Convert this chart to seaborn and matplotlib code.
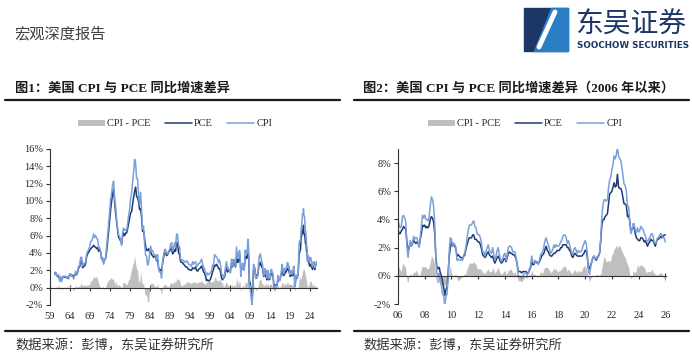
import numpy as np
import pandas as pd
import matplotlib
matplotlib.use("Agg")
import matplotlib.pyplot as plt
import seaborn as sns
from matplotlib.lines import Line2D
from matplotlib.patches import Rectangle, Polygon

# US CPI / PCE year-over-year (%), end-of-quarter readings 1960Q1-2005Q4
cpi_q = [1.5, 1.8, 1.4, 1.4, 1.5, 0.7, 1.3, 0.7, 1.1, 1.3, 1.3, 1.3, 1.1, 1.3, 1.0, 1.6,
         1.6, 1.3, 1.3, 1.0, 1.3, 1.9, 1.6, 1.9, 2.5, 2.5, 3.5, 3.5, 2.5, 2.8, 2.8, 3.0,
         3.9, 4.2, 4.4, 4.7, 5.3, 5.4, 5.7, 6.2, 5.8, 6.0, 5.7, 5.6, 4.7, 4.6, 4.1, 3.3,
         3.5, 2.7, 3.2, 3.4, 4.7, 6.0, 7.4, 8.7, 10.2, 10.9, 11.9, 12.3, 10.3, 9.4, 7.9, 6.9,
         6.1, 5.9, 5.5, 4.9, 6.4, 6.9, 6.6, 6.7, 6.6, 7.4, 8.3, 9.0, 10.2, 10.9, 12.2, 13.3,
         14.8, 14.4, 12.6, 12.5, 10.6, 9.6, 11.0, 8.9, 6.8, 7.1, 5.0, 3.8, 3.6, 2.6, 2.9, 3.8,
         4.8, 4.2, 4.3, 3.9, 3.7, 3.8, 3.2, 3.8, 2.2, 1.8, 1.8, 1.1, 3.0, 3.7, 4.4, 4.4,
         3.9, 3.9, 4.2, 4.4, 5.0, 5.2, 4.3, 4.6, 5.2, 4.7, 6.2, 6.1, 4.9, 4.7, 3.4, 3.1,
         3.2, 3.1, 3.0, 2.9, 3.1, 3.0, 2.7, 2.7, 2.5, 2.5, 3.0, 2.7, 2.9, 3.0, 2.5, 2.5,
         2.8, 2.8, 3.0, 3.3, 2.8, 2.3, 2.2, 1.7, 1.4, 1.7, 1.5, 1.6, 1.7, 2.0, 2.6, 2.7,
         3.8, 3.7, 3.5, 3.4, 2.9, 3.2, 2.6, 1.6, 1.5, 1.1, 1.5, 2.4, 3.0, 2.1, 2.3, 1.9,
         1.7, 3.3, 2.5, 3.3, 3.1, 2.5, 4.7, 3.4]
pce_q = [1.7, 1.7, 1.4, 1.3, 1.2, 1.0, 1.1, 0.9, 1.2, 1.3, 1.2, 1.3, 1.1, 1.1, 1.2, 1.4,
         1.5, 1.4, 1.4, 1.4, 1.4, 1.6, 1.5, 1.8, 2.3, 2.4, 3.0, 3.1, 2.3, 2.5, 2.5, 2.8,
         3.6, 3.9, 4.1, 4.3, 4.5, 4.6, 4.7, 4.9, 4.7, 4.7, 4.5, 4.6, 4.2, 4.4, 4.1, 3.3,
         3.3, 2.9, 3.2, 3.4, 4.2, 5.3, 6.5, 7.8, 9.0, 9.9, 10.9, 11.3, 10.0, 8.6, 7.6, 6.6,
         5.8, 5.6, 5.4, 5.1, 5.9, 6.3, 6.0, 6.3, 6.3, 6.8, 7.4, 8.0, 8.6, 8.8, 9.6, 10.4,
         11.1, 11.6, 10.5, 10.4, 9.9, 9.0, 9.1, 8.1, 6.5, 6.5, 5.6, 4.8, 4.3, 4.3, 4.5, 4.1,
         4.2, 3.8, 3.7, 3.5, 3.6, 3.6, 3.1, 3.3, 2.3, 1.9, 2.1, 1.9, 2.8, 3.5, 4.0, 4.0,
         3.7, 3.8, 4.1, 4.2, 4.4, 4.6, 3.9, 4.0, 4.4, 4.2, 5.1, 5.2, 4.0, 3.8, 3.0, 2.9,
         2.9, 2.7, 2.6, 2.4, 2.4, 2.3, 2.1, 2.1, 2.0, 2.0, 2.3, 2.2, 2.2, 2.4, 2.0, 1.9,
         2.1, 2.2, 2.3, 2.5, 2.2, 1.8, 1.7, 1.3, 0.8, 0.9, 0.8, 0.8, 1.0, 1.4, 1.8, 2.1,
         2.6, 2.5, 2.7, 2.5, 2.2, 2.2, 1.8, 1.1, 0.9, 1.1, 1.2, 1.9, 2.3, 1.8, 2.0, 1.9,
         2.0, 2.8, 2.4, 3.0, 2.8, 2.4, 3.5, 2.9]

# monthly readings 2006-01 to 2026-01
cpi_m = [4.0, 3.6, 3.4, 3.5, 4.2, 4.3, 4.1, 3.8, 2.1, 1.3, 2.0, 2.5,
         2.1, 2.4, 2.8, 2.6, 2.7, 2.7, 2.4, 2.0, 2.8, 3.5, 4.3, 4.1,
         4.3, 4.0, 4.0, 3.9, 4.2, 5.0, 5.6, 5.4, 4.9, 3.7, 1.1, 0.1,
         0.0, 0.2, -0.4, -0.7, -1.3, -1.4, -2.1, -1.5, -1.3, -0.2, 1.8, 2.7,
         2.6, 2.1, 2.3, 2.2, 2.0, 1.1, 1.2, 1.1, 1.1, 1.2, 1.1, 1.5,
         1.6, 2.1, 2.7, 3.2, 3.6, 3.6, 3.6, 3.8, 3.9, 3.5, 3.4, 3.0,
         2.9, 2.9, 2.7, 2.3, 1.7, 1.7, 1.4, 1.7, 2.0, 2.2, 1.8, 1.7,
         1.6, 2.0, 1.5, 1.1, 1.4, 1.8, 2.0, 1.5, 1.2, 1.0, 1.2, 1.5,
         1.6, 1.1, 1.5, 2.0, 2.1, 2.1, 2.0, 1.7, 1.7, 1.7, 1.3, 0.8,
         -0.1, 0.0, -0.1, -0.2, 0.0, 0.1, 0.2, 0.2, 0.0, 0.2, 0.5, 0.7,
         1.4, 1.0, 0.9, 1.1, 1.0, 1.0, 0.8, 1.1, 1.5, 1.6, 1.7, 2.1,
         2.5, 2.7, 2.4, 2.2, 1.9, 1.6, 1.7, 1.9, 2.2, 2.0, 2.2, 2.1,
         2.1, 2.2, 2.4, 2.5, 2.8, 2.9, 2.9, 2.7, 2.3, 2.5, 2.2, 1.9,
         1.6, 1.5, 1.9, 2.0, 1.8, 1.6, 1.8, 1.7, 1.7, 1.8, 2.1, 2.3,
         2.5, 2.3, 1.5, 0.3, 0.1, 0.6, 1.0, 1.3, 1.4, 1.2, 1.2, 1.4,
         1.4, 1.7, 2.6, 4.2, 5.0, 5.4, 5.4, 5.3, 5.4, 6.2, 6.8, 7.0,
         7.5, 7.9, 8.5, 8.3, 8.6, 9.1, 8.5, 8.3, 8.2, 7.7, 7.1, 6.5,
         6.4, 6.0, 5.0, 4.9, 4.0, 3.0, 3.2, 3.7, 3.7, 3.2, 3.1, 3.4,
         3.1, 3.2, 3.5, 3.4, 3.3, 3.0, 2.9, 2.5, 2.4, 2.6, 2.7, 2.9,
         3.0, 2.8, 2.4, 2.3, 2.4, 2.7, 2.7, 2.9, 3.0, 2.9, 2.7, 2.7,
         2.4]
pce_m = [3.3, 3.0, 3.0, 3.2, 3.3, 3.5, 3.4, 3.3, 2.4, 1.8, 2.0, 2.3,
         2.1, 2.3, 2.5, 2.4, 2.3, 2.4, 2.3, 2.1, 2.6, 3.0, 3.6, 3.5,
         3.6, 3.4, 3.5, 3.4, 3.6, 4.0, 4.2, 4.1, 3.8, 3.0, 1.3, 0.6,
         0.5, 0.6, 0.2, 0.0, -0.4, -0.8, -1.4, -1.0, -0.8, 0.2, 1.4, 2.0,
         2.4, 2.1, 2.3, 2.1, 1.9, 1.4, 1.5, 1.4, 1.3, 1.3, 1.2, 1.4,
         1.5, 1.9, 2.2, 2.5, 2.7, 2.7, 2.7, 2.9, 2.9, 2.6, 2.6, 2.5,
         2.4, 2.4, 2.2, 1.9, 1.5, 1.4, 1.3, 1.4, 1.6, 1.7, 1.5, 1.4,
         1.3, 1.4, 1.1, 0.9, 1.1, 1.3, 1.4, 1.2, 1.0, 0.9, 1.0, 1.2,
         1.2, 1.0, 1.3, 1.6, 1.7, 1.6, 1.6, 1.5, 1.5, 1.4, 1.2, 0.8,
         0.3, 0.3, 0.3, 0.2, 0.3, 0.3, 0.3, 0.3, 0.2, 0.2, 0.4, 0.6,
         1.0, 0.8, 0.8, 1.0, 1.0, 0.9, 0.9, 1.0, 1.2, 1.4, 1.5, 1.6,
         1.9, 2.1, 1.8, 1.7, 1.5, 1.4, 1.4, 1.5, 1.6, 1.6, 1.7, 1.8,
         1.8, 1.8, 2.0, 2.0, 2.2, 2.2, 2.2, 2.2, 2.0, 2.0, 1.8, 1.7,
         1.4, 1.3, 1.5, 1.6, 1.5, 1.4, 1.4, 1.4, 1.4, 1.4, 1.5, 1.6,
         1.8, 1.8, 1.3, 0.5, 0.5, 0.8, 1.0, 1.3, 1.4, 1.2, 1.1, 1.3,
         1.4, 1.6, 2.5, 3.6, 4.0, 4.0, 4.2, 4.3, 4.4, 5.1, 5.8, 5.9,
         6.0, 6.3, 6.6, 6.3, 6.4, 7.2, 6.3, 6.2, 6.2, 6.0, 5.5, 5.1,
         5.1, 5.0, 4.2, 4.3, 3.9, 3.2, 3.3, 3.4, 3.4, 3.0, 2.7, 2.6,
         2.5, 2.5, 2.7, 2.7, 2.6, 2.4, 2.5, 2.3, 2.1, 2.3, 2.4, 2.6,
         2.5, 2.5, 2.3, 2.1, 2.4, 2.6, 2.6, 2.7, 2.8, 2.7, 2.8, 2.9,
         2.9]

left_years = list(range(1959, 2025, 5))
left_labels = [f"{y % 100:02d}" for y in left_years]
right_years = list(range(2006, 2027, 2))
right_labels = [f"{y % 100:02d}" for y in right_years]
left_yticks = list(range(-2, 17, 2))
right_yticks = list(range(-2, 9, 2))

titles = ["图1：美国 CPI 与 PCE 同比增速差异",
          "图2：美国 CPI 与 PCE 同比增速差异（2006 年以来）"]
source = "数据来源：彭博，东吴证券研究所"

GREY, NAVY, LIGHT = "#bfbfbf", "#1f3b73", "#7b9fdb"
W, H = 692, 358


def to_frame(dates, cpi, pce):
    d = pd.DataFrame({"date": dates, "CPI": cpi, "PCE": pce})
    d["t"] = d["date"].dt.year + (d["date"].dt.month - 1) / 12
    d["gap"] = d["CPI"] - d["PCE"]
    return d


qd = to_frame(pd.date_range("1960-03-01", periods=len(cpi_q), freq="3MS"), cpi_q, pce_q)
md = to_frame(pd.date_range("2006-01-01", periods=len(cpi_m), freq="MS"), cpi_m, pce_m)
full = pd.concat([qd, md], ignore_index=True)

sns.set_theme(style="white")
plt.rcParams["font.family"] = ["Liberation Serif", "Noto Sans CJK SC", "DejaVu Sans"]
plt.rcParams["axes.unicode_minus"] = False

fig = plt.figure(figsize=(W / 100, H / 100), dpi=100)


def px_box(x0, y0, x1, y1):
    return [x0 / W, 1 - y1 / H, (x1 - x0) / W, (y1 - y0) / H]


def draw(ax, d, xlim, ylim, xt, xl, yt, legend_x):
    ax.fill_between(d["t"], 0, d["gap"], color=GREY, lw=0, label="CPI - PCE")
    sns.lineplot(data=d, x="t", y="PCE", color=NAVY, lw=1.1, ax=ax, label="PCE")
    sns.lineplot(data=d, x="t", y="CPI", color=LIGHT, lw=1.1, ax=ax, label="CPI")
    ax.set_xlim(*xlim)
    ax.set_ylim(*ylim)
    ax.set_xlabel("")
    ax.set_ylabel("")
    ax.spines[["top", "right"]].set_visible(False)
    for s in ("left", "bottom"):
        ax.spines[s].set_color("#333333")
        ax.spines[s].set_linewidth(0.8)
    # category axis crosses at zero, labels stay at the bottom
    ax.spines["bottom"].set_position(("data", 0))
    ax.set_xticks(xt)
    ax.tick_params(axis="x", direction="inout", length=5, width=0.8,
                   color="#333333", labelbottom=False, bottom=True)
    ax.set_yticks(yt)
    ax.set_yticklabels([f"{v}%" for v in yt])
    ax.tick_params(axis="y", direction="out", length=3, width=0.8,
                   color="#333333", labelsize=7.5, pad=2, left=True)
    sec = ax.secondary_xaxis("bottom")
    sec.set_xticks(xt, labels=xl)
    sec.tick_params(length=0, labelsize=7.5, pad=5)
    sec.spines["bottom"].set_visible(False)
    h, l = ax.get_legend_handles_labels()
    order = [l.index(k) for k in ("CPI - PCE", "PCE", "CPI")]
    ax.legend([h[i] for i in order], [l[i] for i in order], loc="center",
              bbox_to_anchor=(legend_x / W, 1 - 124 / H),
              bbox_transform=fig.transFigure, ncol=3, frameon=False,
              fontsize=7.5, handlelength=2.6, handleheight=0.5,
              columnspacing=1.3, handletextpad=0.25)


ax1 = fig.add_axes(px_box(50, 149, 317, 305))
draw(ax1, full, (1959, 2025.8), (-2, 16), left_years, left_labels, left_yticks, 175)

ax2 = fig.add_axes(px_box(398, 149, 666, 304))
draw(ax2, md, (2006, 2026.05), (-2, 9), right_years, right_labels, right_yticks, 525)

# page furniture in pixel coordinates
ov = fig.add_axes([0, 0, 1, 1], zorder=-1)
ov.set_xlim(0, W)
ov.set_ylim(H, 0)
ov.axis("off")

cjk = ["Noto Sans CJK SC", "DejaVu Sans"]
ov.text(14, 34, "宏观深度报告", fontsize=11, color="#404040", va="center", family=cjk)

# logo
ov.add_patch(Rectangle((524, 8), 44, 43, color="#1c3766"))
ov.add_patch(Polygon([(551, 8), (568, 8), (568, 51), (534, 51)], closed=True, color="#2a7fc4"))
ov.plot([539, 555], [47, 12], color="white", lw=3.5, solid_capstyle="round")
ov.text(575, 25, "东吴证券", fontsize=20, color="#1c3766", va="center", family=cjk,
        fontweight="medium")
ov.text(577, 46, "SOOCHOW SECURITIES", fontsize=6.3, color="#1c3766", va="center",
        family=["DejaVu Sans"], fontweight="bold")

for x0, x1, tx, title in [(5, 340, 15, titles[0]), (354, 689, 363, titles[1])]:
    ov.text(tx, 88, title, fontsize=9.5, fontweight="bold", color="#1a1a1a", va="center")
    ov.add_line(Line2D([x0, x1], [100, 100], color="#1a1a1a", lw=1.6))
    ov.add_line(Line2D([x0, x1], [331, 331], color="#1a1a1a", lw=1.6))
    ov.text(tx, 346, source, fontsize=9.5, color="#333333", va="center", family=cjk)

fig.savefig("out.png", dpi=100)
